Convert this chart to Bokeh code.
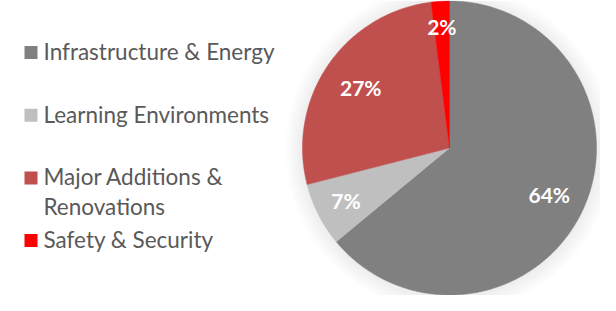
import math
import numpy as np
from bokeh.plotting import figure
from bokeh.models import Range1d, ColumnDataSource
from bokeh.core.properties import value
from bokeh.embed import file_html
from bokeh.resources import INLINE

categories = ["Infrastructure & Energy", "Learning Environments",
              "Major Additions & Renovations", "Safety & Security"]
legend_labels = ["Infrastructure & Energy", "Learning Environments",
                 "Major Additions &\nRenovations", "Safety & Security"]
shares = [64, 7, 27, 2]
colors = ["#808080", "#BFBFBF", "#C0504D", "#FF0000"]

W, H = 600, 295
# data space = plot pixels, y pointing up
p = figure(width=W, height=H, output_backend="svg", toolbar_location=None,
           x_range=Range1d(0, W), y_range=Range1d(0, H),
           min_border=0, background_fill_color="white", border_fill_color="white")
p.axis.visible = False
p.grid.visible = False
p.outline_line_color = None

def up(y_px):
    return H - y_px

cx, cy, R = 449, up(147.5), 147

# soft shadow around the pie
for k in range(18, 0, -1):
    p.ellipse(x=[cx], y=[cy - 1], width=2 * (R + k), height=2 * (R + k),
              fill_color="#000000", fill_alpha=0.005, line_color=None)

total = sum(shares)
xs, ys, mids = [], [], []
a = math.pi / 2
for v in shares:
    span = v / total * 2 * math.pi
    n = max(4, int(span * 80))
    t = np.linspace(a, a - span, n)
    xs.append([cx] + list(cx + R * np.cos(t)))
    ys.append([cy] + list(cy + R * np.sin(t)))
    mids.append(a - span / 2)
    a -= span

src = ColumnDataSource(dict(xs=xs, ys=ys, color=colors, cat=categories))
p.patches(xs="xs", ys="ys", fill_color="color", line_color="color", line_width=0.5,
          source=src)

# data labels
label_r = [0.75, 0.79, 0.73, 0.83]
lx = [cx + f * R * math.cos(m) for f, m in zip(label_r, mids)]
ly = [cy + f * R * math.sin(m) for f, m in zip(label_r, mids)]
p.text(x=lx, y=ly, text=[f"{v}%" for v in shares], text_color="white",
       text_font=value("Lato"), text_font_style="bold", text_font_size="21px",
       text_align="center", text_baseline="middle")

# legend
row0, step = 52, 62.7
lys = [up(row0 + i * step) for i in range(len(categories))]
p.rect(x=[30.5] * len(lys), y=lys, width=13, height=13, fill_color=colors, line_color=None)
p.text(x=[43] * len(lys), y=[y + 14.5 for y in lys], text=legend_labels, text_color="#595959",
       text_font=value("Lato"), text_font_size="22.5px", text_align="left",
       text_baseline="top", text_line_height=1.08)

open("out.html", "w").write(file_html(p, INLINE))
